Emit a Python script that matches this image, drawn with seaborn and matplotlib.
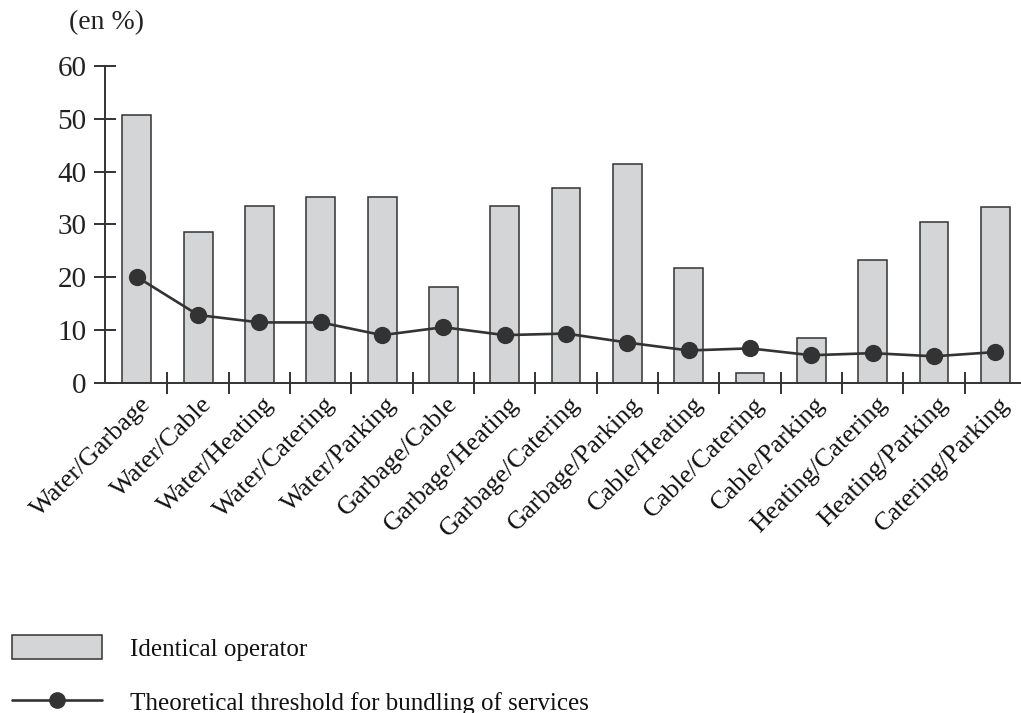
import numpy as np
import pandas as pd
import matplotlib
matplotlib.use("Agg")
import matplotlib.pyplot as plt
import matplotlib.transforms as mtransforms
from matplotlib.patches import Patch
from matplotlib.lines import Line2D
import seaborn as sns

# data
pairs = ["Water/Garbage", "Water/Cable", "Water/Heating", "Water/Catering", "Water/Parking",
         "Garbage/Cable", "Garbage/Heating", "Garbage/Catering", "Garbage/Parking",
         "Cable/Heating", "Cable/Catering", "Cable/Parking",
         "Heating/Catering", "Heating/Parking", "Catering/Parking"]
identical = [50.7, 28.6, 33.5, 35.1, 35.1, 18.1, 33.5, 36.8, 41.4, 21.8, 2.0, 8.6, 23.2, 30.4, 33.3]
threshold = [20.1, 12.9, 11.5, 11.5, 9.1, 10.6, 9.1, 9.4, 7.7, 6.2, 6.6, 5.3, 5.7, 5.1, 5.9]
yticks = [0, 10, 20, 30, 40, 50, 60]
bar_label = "Identical operator"
line_label = "Theoretical threshold for bundling of services"

df = pd.DataFrame({"pair": pairs, "identical": identical, "threshold": threshold})

sns.set_style("ticks")
plt.rcParams["font.family"] = ["Liberation Serif", "DejaVu Serif"]
ink = "#333333"
bar_fc = "#d4d5d7"

fig = plt.figure(figsize=(10.21, 7.13), dpi=100)
ax = fig.add_axes([0.1028, 0.4624, 0.8972, 0.4455])

sns.barplot(data=df, x="pair", y="identical", color=bar_fc, edgecolor=ink,
            linewidth=1.1, width=0.47, saturation=1, ax=ax)
sns.pointplot(data=df, x="pair", y="threshold", color=ink, errorbar=None,
              markers="o", markersize=11, linewidth=1.9, ax=ax)

ax.set_xlim(-0.52, 14.42)
ax.set_ylim(0, 60)
ax.set_xlabel("")
ax.set_ylabel("")

sns.despine(ax=ax)
for s in ["left", "bottom"]:
    ax.spines[s].set_color(ink)
    ax.spines[s].set_linewidth(1.4)

ax.set_yticks(yticks)
ax.tick_params(axis="y", direction="inout", length=16.5, width=1.4, color=ink,
               labelsize=21, labelcolor="#222222", pad=5)

ax.set_xticks(np.arange(len(pairs)))
ax.set_xticklabels(pairs, rotation=45, ha="right", va="top", rotation_mode="anchor")
ax.set_xticks(np.arange(0.5, len(pairs) - 1), minor=True)
ax.tick_params(axis="x", which="major", length=0, labelsize=19, labelcolor="#111111", pad=7)
ax.tick_params(axis="x", which="minor", direction="inout", length=16.5, width=1.4, color=ink)
offset = mtransforms.ScaledTranslation(3 / 100, 0, fig.dpi_scale_trans)
for lab in ax.get_xticklabels():
    lab.set_transform(lab.get_transform() + offset)

fig.text(106 / 1021, 1 - 23 / 713, "(en %)", ha="center", va="center",
         fontsize=20, color="#222222")

handles = [Patch(facecolor=bar_fc, edgecolor=ink, linewidth=1.1),
           Line2D([0], [0], color=ink, lw=1.9, marker="o", markersize=11)]
fig.legend(handles, [bar_label, line_label], loc="upper left",
           bbox_to_anchor=(12 / 1021, 1 - 635 / 713), frameon=False,
           fontsize=18, handlelength=3.6, handleheight=1.12, handletextpad=1.1,
           labelspacing=1.15, borderpad=0, borderaxespad=0, labelcolor="#111111")

fig.savefig("out.png", dpi=100)
